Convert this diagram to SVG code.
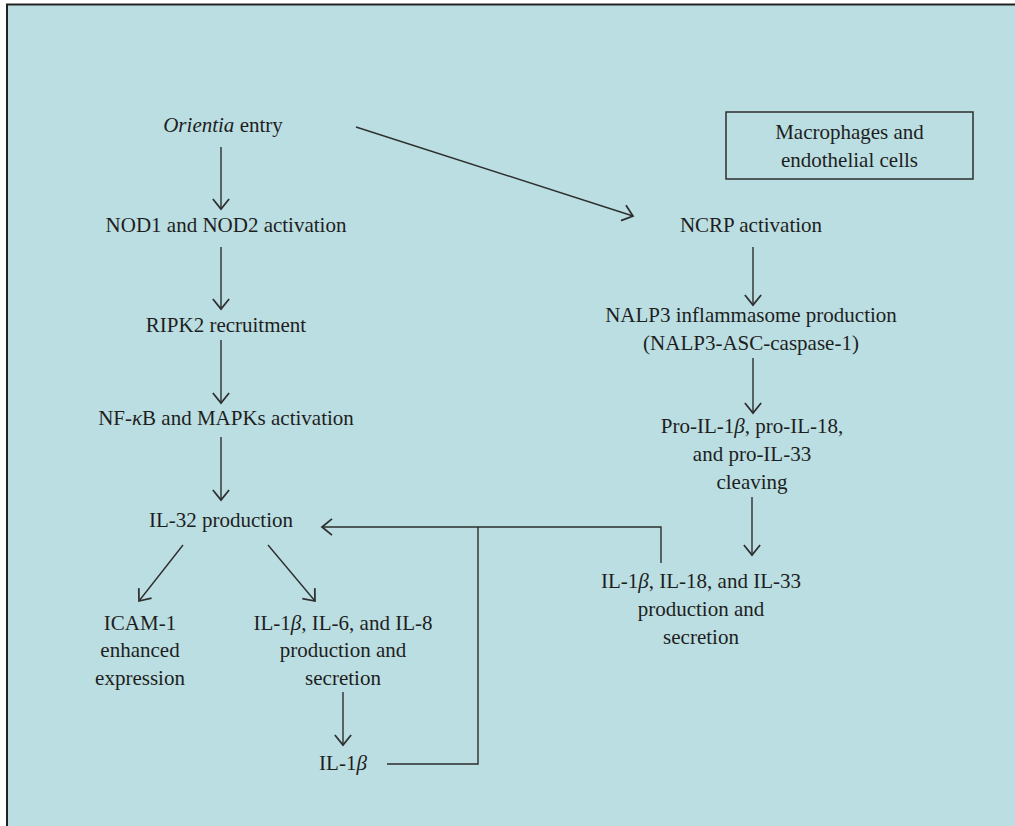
<svg xmlns="http://www.w3.org/2000/svg" width="1015" height="826" viewBox="0 0 1015 826">
<defs>
<style>
.t{font-family:"Liberation Serif","Times New Roman",serif;font-size:21px;fill:#1e1e1e;text-anchor:middle}
.i{font-style:italic}
.c{fill:none;stroke:#2e2e2e;stroke-width:1.4}
</style>
<marker id="ah" markerUnits="userSpaceOnUse" markerWidth="20" markerHeight="20" viewBox="-10 -8 12 16" refX="0" refY="0" orient="auto">
<path d="M-8,-6.5 L0,0 L-8,6.5" fill="none" stroke="#2e2e2e" stroke-width="1.4"/>
</marker>
</defs>
<rect x="7" y="4.5" width="1020" height="830" fill="#bbdee2" stroke="#222" stroke-width="2"/>
<g id="connectors">
<path class="c" d="M221,147 V209" marker-end="url(#ah)"/>
<path class="c" d="M221,247 V309" marker-end="url(#ah)"/>
<path class="c" d="M221,340 V403" marker-end="url(#ah)"/>
<path class="c" d="M221,437 V500" marker-end="url(#ah)"/>
<path class="c" d="M183,545 L139,601" marker-end="url(#ah)"/>
<path class="c" d="M268,545 L315,601" marker-end="url(#ah)"/>
<path class="c" d="M343,692 V745" marker-end="url(#ah)"/>
<path class="c" d="M356,127 L633,216" marker-end="url(#ah)"/>
<path class="c" d="M753,247 V305" marker-end="url(#ah)"/>
<path class="c" d="M753,358 V413" marker-end="url(#ah)"/>
<path class="c" d="M752,497 V555" marker-end="url(#ah)"/>
<path class="c" d="M661,563 V527 H322" marker-end="url(#ah)"/>
<path class="c" d="M387,764 H478 V527"/>
</g>
<g id="n_orientia"><text class="t" x="223" y="132"><tspan class="i">Orientia</tspan> entry</text></g>
<g id="n_nod"><text class="t" x="226" y="232">NOD1 and NOD2 activation</text></g>
<g id="n_ripk2"><text class="t" x="226" y="332">RIPK2 recruitment</text></g>
<g id="n_nfkb"><text class="t" x="226" y="425">NF-<tspan class="i">κ</tspan>B and MAPKs activation</text></g>
<g id="n_il32"><text class="t" x="221" y="527">IL-32 production</text></g>
<g id="n_icam"><text class="t" x="140" y="630">ICAM-1</text><text class="t" x="140" y="657">enhanced</text><text class="t" x="140" y="685">expression</text></g>
<g id="n_il1b_6_8"><text class="t" x="343" y="630">IL-1<tspan class="i">β</tspan>, IL-6, and IL-8</text><text class="t" x="343" y="657">production and</text><text class="t" x="343" y="685">secretion</text></g>
<g id="n_il1b"><text class="t" x="343" y="770">IL-1<tspan class="i">β</tspan></text></g>
<g id="n_cells"><rect x="726" y="112" width="247" height="67" fill="none" stroke="#2e2e2e" stroke-width="1.5"/><text class="t" x="849.5" y="139">Macrophages and</text><text class="t" x="849.5" y="167">endothelial cells</text></g>
<g id="n_ncrp"><text class="t" x="751" y="232">NCRP activation</text></g>
<g id="n_nalp3"><text class="t" x="751" y="322">NALP3 inflammasome production</text><text class="t" x="751" y="350">(NALP3-ASC-caspase-1)</text></g>
<g id="n_pro"><text class="t" x="752" y="433">Pro-IL-1<tspan class="i">β</tspan>, pro-IL-18,</text><text class="t" x="752" y="461">and pro-IL-33</text><text class="t" x="752" y="489">cleaving</text></g>
<g id="n_il1b_18_33"><text class="t" x="701" y="588">IL-1<tspan class="i">β</tspan>, IL-18, and IL-33</text><text class="t" x="701" y="616">production and</text><text class="t" x="701" y="644">secretion</text></g>
</svg>
